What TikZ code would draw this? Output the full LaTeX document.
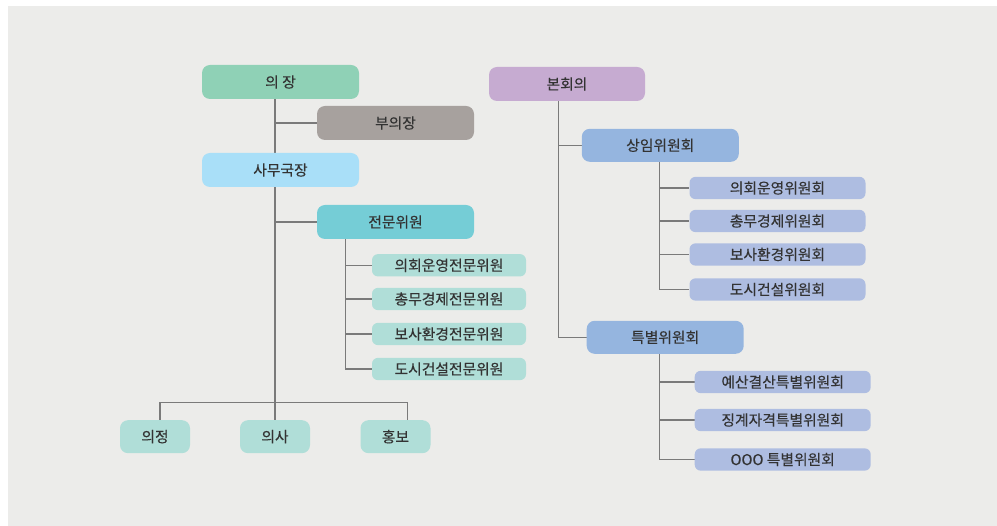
\documentclass[tikz,border=0pt]{standalone}
\usepackage{fontspec}
\setmainfont{Noto Sans CJK KR}[FakeBold=0.35,BoldFont={Noto Sans CJK KR},BoldFeatures={FakeBold=1}]
\usetikzlibrary{backgrounds}
\definecolor{bgc}{HTML}{ECECEA}
\definecolor{txt}{HTML}{333333}
\definecolor{linec}{HTML}{7A7A7A}
\definecolor{cChair}{HTML}{8FD1B6}
\definecolor{cVice}{HTML}{A7A19E}
\definecolor{cSec}{HTML}{A9DFF8}
\definecolor{cExp}{HTML}{75CDD6}
\definecolor{cGreen}{HTML}{B0DED8}
\definecolor{cPlen}{HTML}{C6ABD1}
\definecolor{cComm}{HTML}{95B5DF}
\definecolor{cSub}{HTML}{AEBDE1}
\tikzset{
  box/.style={rectangle, inner sep=0pt, text=txt, font=\fontsize{14.8}{17}\selectfont},
  bigbox/.style={box, rounded corners=8pt, minimum width=157pt, minimum height=34pt},
  smallbox/.style={box, rounded corners=6pt, minimum height=22.3pt},
  lowbox/.style={box, rounded corners=8pt, minimum width=70pt, minimum height=33pt, fill=cGreen},
  conn/.style={draw=linec, line width=1.2pt}
}
\begin{document}
\begin{tikzpicture}[x=1pt,y=-1pt]
\useasboundingbox (0,0) rectangle (997,526);
% left tree
\node[bigbox, fill=cChair] (chair) at (280.5,82) {의 장};
\node[bigbox, fill=cVice] (vice) at (395.5,123) {부의장};
\node[bigbox, fill=cSec] (sec) at (280.5,170) {사무국장};
\node[bigbox, fill=cExp] (exp) at (395.5,222) {전문위원};
\node[smallbox, fill=cGreen, minimum width=154pt] (e1) at (449,265.3) {의회운영전문위원};
\node[smallbox, fill=cGreen, minimum width=154pt] (e2) at (449,299) {총무경제전문위원};
\node[smallbox, fill=cGreen, minimum width=154pt] (e3) at (449,334) {보사환경전문위원};
\node[smallbox, fill=cGreen, minimum width=154pt] (e4) at (449,369) {도시건설전문위원};
\node[lowbox] (d1) at (155,436.7) {의정};
\node[lowbox] (d2) at (275,436.7) {의사};
\node[lowbox] (d3) at (395.5,436.7) {홍보};
% right tree
\node[bigbox, fill=cPlen, minimum width=156pt] (plen) at (567,84) {본회의};
\node[bigbox, fill=cComm, minimum height=33pt] (std) at (660.3,145.3) {상임위원회};
\node[bigbox, fill=cComm, minimum height=33pt] (spc) at (665.2,337.3) {특별위원회};
\node[smallbox, fill=cSub, minimum width=176pt] (s1) at (777.5,188) {의회운영위원회};
\node[smallbox, fill=cSub, minimum width=176pt] (s2) at (777.5,221) {총무경제위원회};
\node[smallbox, fill=cSub, minimum width=176pt] (s3) at (777.5,254.5) {보사환경위원회};
\node[smallbox, fill=cSub, minimum width=176pt] (s4) at (777.5,289.5) {도시건설위원회};
\node[smallbox, fill=cSub, minimum width=176pt] (p1) at (782.7,382) {예산결산특별위원회};
\node[smallbox, fill=cSub, minimum width=176pt] (p2) at (782.7,420) {징계자격특별위원회};
\node[smallbox, fill=cSub, minimum width=176pt] (p3) at (782.7,459.5) {OOO 특별위원회};
% connector anchors
\coordinate (mv) at (275,99);
\coordinate (ev) at (345.5,239);
\coordinate (busL) at (160,402.3);
\coordinate (busR) at (407.5,402.3);
\coordinate (bv) at (558.3,101);
\coordinate (sv) at (659.7,162);
\coordinate (tv) at (659.7,354);
\begin{scope}[on background layer]
\fill[bgc] (8,6) rectangle (997,526);
\draw[conn] (mv) -- (d2.north);
\draw[conn] (mv) |- (vice.west);
\draw[conn] (mv) |- (exp.west);
\foreach \n in {e1,e2,e3,e4} \draw[conn] (ev) |- (\n.west);
\draw[conn] (d1.north -| busL) |- (busR) -- (d3.north -| busR);
\draw[conn] (bv) |- (std.west);
\draw[conn] (bv) |- (spc.west);
\foreach \n in {s1,s2,s3,s4} \draw[conn] (sv) |- (\n.west);
\foreach \n in {p1,p2,p3} \draw[conn] (tv) |- (\n.west);
\end{scope}
\end{tikzpicture}
\end{document}
